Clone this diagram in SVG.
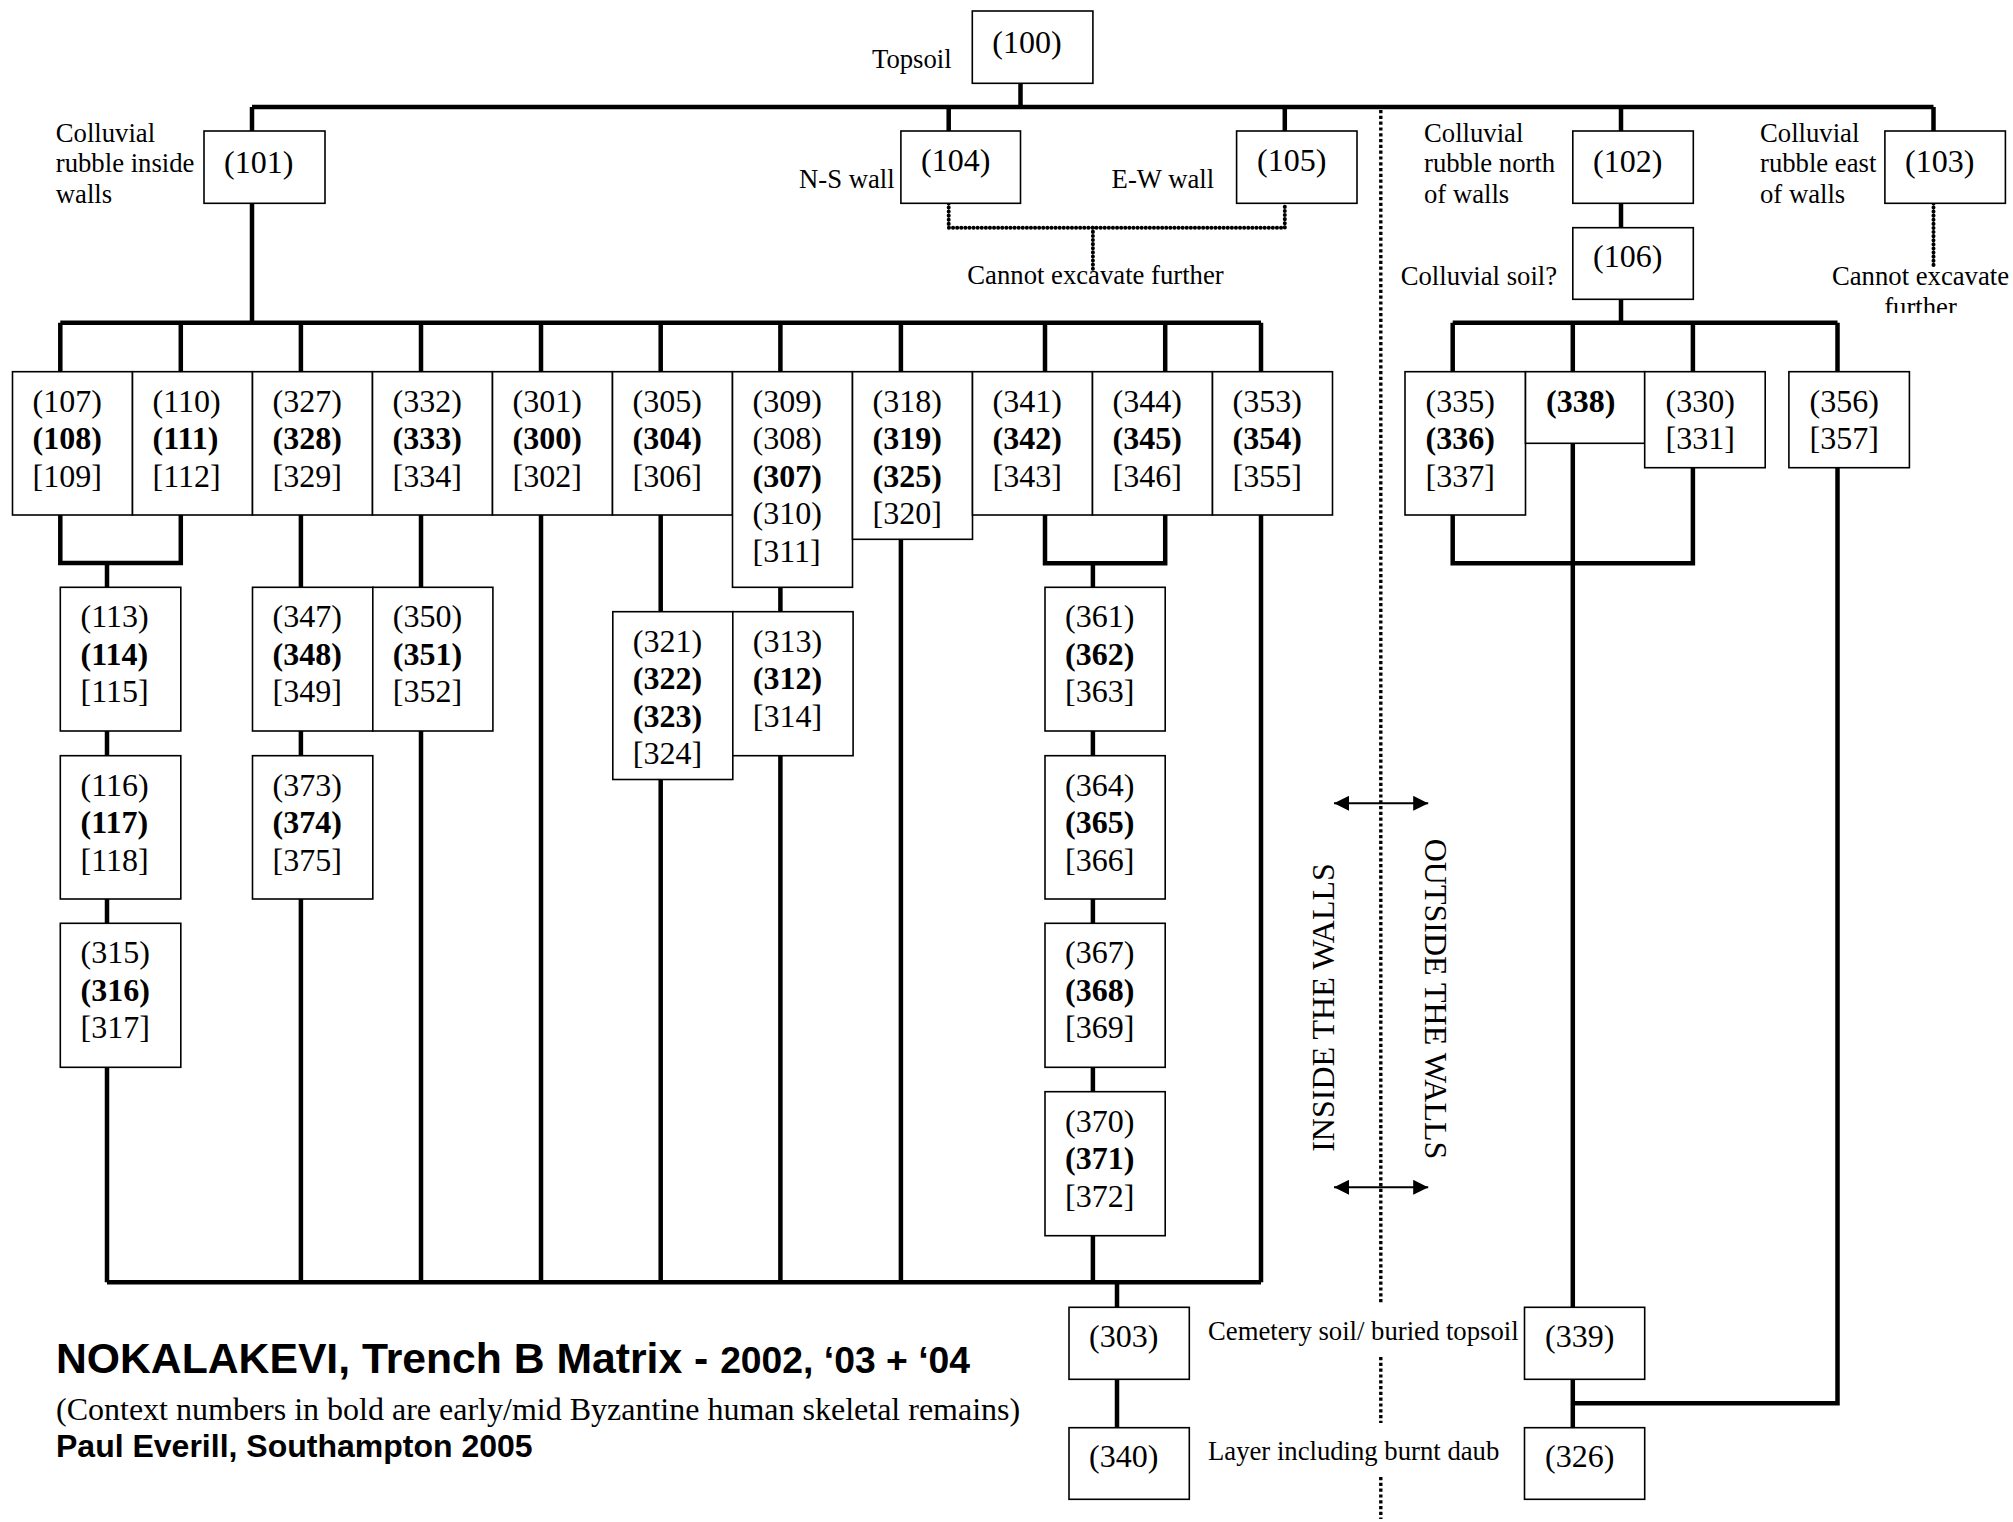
<svg xmlns="http://www.w3.org/2000/svg" width="2013" height="1522" viewBox="0 0 2013 1522">
<style>
.box{fill:#fff;stroke:#000;stroke-width:1.6}
.c{fill:none;stroke:#000;stroke-width:4.5;stroke-linejoin:miter}
.dt{fill:none;stroke:#000;stroke-width:4;stroke-dasharray:0.1 4;stroke-linecap:round}
.dv{fill:none;stroke:#000;stroke-width:3.4;stroke-dasharray:3.2 2.6}
.ar{fill:none;stroke:#000;stroke-width:2;marker-start:url(#ah);marker-end:url(#ah)}
.n{font-family:"Liberation Serif","Times New Roman",serif;font-size:32px;fill:#000}
.b{font-weight:bold}
.l{font-family:"Liberation Serif","Times New Roman",serif;font-size:26.7px;fill:#000}
.s{font-family:"Liberation Sans",Arial,sans-serif;font-weight:bold;fill:#000}
</style>
<defs>
<marker id="ah" viewBox="0 0 15 15" refX="15" refY="7.5" markerWidth="15" markerHeight="15" markerUnits="userSpaceOnUse" orient="auto-start-reverse"><path d="M0,0 L15,7.5 L0,15 z" fill="#000"/></marker>
<clipPath id="clipF"><rect x="1790" y="240" width="223" height="73"/></clipPath>
</defs>
<rect width="2013" height="1522" fill="#fff"/>
<g id="connectors">
<path class="c" d="M252,107 H1933.5 M1020.5,83.3 V107 M252,107 V131 M252,203.3 V322.7 M948.7,107 V131 M1284.8,107 V131 M1621,107 V131 M1621,203.3 V227.7 M1621,299.3 V322.7 M1933.5,107 V131"/>
<path class="c" d="M60.3,322.7 H1261 M60.3,322.7 V371.7 M180.8,322.7 V371.7 M300.9,322.7 V371.7 M421,322.7 V371.7 M541,322.7 V371.7 M660.7,322.7 V371.7 M780.4,322.7 V371.7 M900.9,322.7 V371.7 M1045,322.7 V371.7 M1165.2,322.7 V371.7 M1261,322.7 V371.7"/>
<path class="c" d="M60.3,515 V563 H180.8 V515 M107,563 V587.3 M107,731 V755.7 M107,899 V923.3 M107,1067.3 V1282.3"/>
<path class="c" d="M300.9,515 V587.3 M300.9,731 V755.7 M300.9,899 V1282.3 M421,515 V587.3 M421,731 V1282.3 M541,515 V1282.3 M660.7,515 V611.7 M660.7,779.5 V1282.3 M780.4,587.3 V611.7 M780.4,755.7 V1282.3 M900.9,539.3 V1282.3"/>
<path class="c" d="M1045,515 V563.3 H1165.2 V515 M1092.9,563.3 V587.3 M1092.9,731 V755.7 M1092.9,899 V923.3 M1092.9,1067.3 V1091.7 M1092.9,1235.7 V1282.3 M1261,515 V1282.3"/>
<path class="c" d="M107,1282.3 H1261 M1117,1282.3 V1307.3 M1117,1379.3 V1427.7"/>
<path class="c" d="M1452.7,322.7 H1837.5 M1452.7,322.7 V371.7 M1572.8,322.7 V371.7 M1692.9,322.7 V371.7 M1837.5,322.7 V371.7 M1452.7,515 V563.3 H1692.9 V467.7 M1572.8,443.3 V1307.3 M1572.8,1379.3 V1427.7 M1837.5,467.7 V1403.3 H1572.8"/>
<path class="dt" d="M948.7,203.3 V227.7 H1284.8 V203.3 M1092.9,227.7 V270 M1933.5,203.3 V268"/>
<path class="dv" d="M1380.8,110 V1303 M1380.8,1357 V1423 M1380.8,1477 V1519"/>
<path class="ar" d="M1334,803.3 H1428.2"/>
<path class="ar" d="M1334,1187.3 H1428.2"/>
</g>
<g id="n100"><rect class="box" x="972.3" y="11" width="120.6" height="72.3"/><text class="n" x="992.3" y="53.3">(100)</text></g>
<g id="n101"><rect class="box" x="204" y="131" width="121" height="72.3"/><text class="n" x="224" y="172.5">(101)</text></g>
<g id="n104"><rect class="box" x="900.9" y="131" width="119.6" height="72.3"/><text class="n" x="921" y="171">(104)</text></g>
<g id="n105"><rect class="box" x="1236.6" y="131" width="120.4" height="72.3"/><text class="n" x="1257" y="171">(105)</text></g>
<g id="n102"><rect class="box" x="1572.8" y="131" width="120.5" height="72.3"/><text class="n" x="1593" y="172">(102)</text></g>
<g id="n103"><rect class="box" x="1884.9" y="131" width="120.5" height="72.3"/><text class="n" x="1905" y="172">(103)</text></g>
<g id="n106"><rect class="box" x="1572.8" y="227.7" width="120.5" height="71.6"/><text class="n" x="1593" y="266.7">(106)</text></g>
<g id="n107"><rect class="box" x="12.5" y="371.7" width="120" height="143.3"/><text class="n" x="32.5" y="411.7">(107)<tspan class="b" x="32.5" dy="37.5">(108)</tspan><tspan x="32.5" dy="37.5">[109]</tspan></text></g>
<g id="n110"><rect class="box" x="132.5" y="371.7" width="120" height="143.3"/><text class="n" x="152.5" y="411.7">(110)<tspan class="b" x="152.5" dy="37.5">(111)</tspan><tspan x="152.5" dy="37.5">[112]</tspan></text></g>
<g id="n327"><rect class="box" x="252.5" y="371.7" width="120" height="143.3"/><text class="n" x="272.5" y="411.7">(327)<tspan class="b" x="272.5" dy="37.5">(328)</tspan><tspan x="272.5" dy="37.5">[329]</tspan></text></g>
<g id="n332"><rect class="box" x="372.5" y="371.7" width="120" height="143.3"/><text class="n" x="392.5" y="411.7">(332)<tspan class="b" x="392.5" dy="37.5">(333)</tspan><tspan x="392.5" dy="37.5">[334]</tspan></text></g>
<g id="n301"><rect class="box" x="492.5" y="371.7" width="120" height="143.3"/><text class="n" x="512.5" y="411.7">(301)<tspan class="b" x="512.5" dy="37.5">(300)</tspan><tspan x="512.5" dy="37.5">[302]</tspan></text></g>
<g id="n305"><rect class="box" x="612.5" y="371.7" width="120" height="143.3"/><text class="n" x="632.5" y="411.7">(305)<tspan class="b" x="632.5" dy="37.5">(304)</tspan><tspan x="632.5" dy="37.5">[306]</tspan></text></g>
<g id="n309"><rect class="box" x="732.5" y="371.7" width="120" height="215.6"/><text class="n" x="752.5" y="411.7">(309)<tspan x="752.5" dy="37.5">(308)</tspan><tspan class="b" x="752.5" dy="37.5">(307)</tspan><tspan x="752.5" dy="37.5">(310)</tspan><tspan x="752.5" dy="37.5">[311]</tspan></text></g>
<g id="n318"><rect class="box" x="852.5" y="371.7" width="120" height="167.6"/><text class="n" x="872.5" y="411.7">(318)<tspan class="b" x="872.5" dy="37.5">(319)</tspan><tspan class="b" x="872.5" dy="37.5">(325)</tspan><tspan x="872.5" dy="37.5">[320]</tspan></text></g>
<g id="n341"><rect class="box" x="972.5" y="371.7" width="120" height="143.3"/><text class="n" x="992.5" y="411.7">(341)<tspan class="b" x="992.5" dy="37.5">(342)</tspan><tspan x="992.5" dy="37.5">[343]</tspan></text></g>
<g id="n344"><rect class="box" x="1092.5" y="371.7" width="120" height="143.3"/><text class="n" x="1112.5" y="411.7">(344)<tspan class="b" x="1112.5" dy="37.5">(345)</tspan><tspan x="1112.5" dy="37.5">[346]</tspan></text></g>
<g id="n353"><rect class="box" x="1212.5" y="371.7" width="120" height="143.3"/><text class="n" x="1232.5" y="411.7">(353)<tspan class="b" x="1232.5" dy="37.5">(354)</tspan><tspan x="1232.5" dy="37.5">[355]</tspan></text></g>
<g id="n113"><rect class="box" x="60.3" y="587.3" width="120.5" height="143.7"/><text class="n" x="80.5" y="627.3">(113)<tspan class="b" x="80.5" dy="37.5">(114)</tspan><tspan x="80.5" dy="37.5">[115]</tspan></text></g>
<g id="n116"><rect class="box" x="60.3" y="755.7" width="120.5" height="143.3"/><text class="n" x="80.5" y="795.7">(116)<tspan class="b" x="80.5" dy="37.5">(117)</tspan><tspan x="80.5" dy="37.5">[118]</tspan></text></g>
<g id="n315"><rect class="box" x="60.3" y="923.3" width="120.5" height="144"/><text class="n" x="80.5" y="963.3">(315)<tspan class="b" x="80.5" dy="37.5">(316)</tspan><tspan x="80.5" dy="37.5">[317]</tspan></text></g>
<g id="n347"><rect class="box" x="252.5" y="587.3" width="120.3" height="143.7"/><text class="n" x="272.5" y="627.3">(347)<tspan class="b" x="272.5" dy="37.5">(348)</tspan><tspan x="272.5" dy="37.5">[349]</tspan></text></g>
<g id="n350"><rect class="box" x="372.8" y="587.3" width="120.1" height="143.7"/><text class="n" x="392.8" y="627.3">(350)<tspan class="b" x="392.8" dy="37.5">(351)</tspan><tspan x="392.8" dy="37.5">[352]</tspan></text></g>
<g id="n373"><rect class="box" x="252.5" y="755.7" width="120.3" height="143.3"/><text class="n" x="272.5" y="795.7">(373)<tspan class="b" x="272.5" dy="37.5">(374)</tspan><tspan x="272.5" dy="37.5">[375]</tspan></text></g>
<g id="n321"><rect class="box" x="612.8" y="611.7" width="120" height="167.8"/><text class="n" x="632.8" y="651.7">(321)<tspan class="b" x="632.8" dy="37.5">(322)</tspan><tspan class="b" x="632.8" dy="37.5">(323)</tspan><tspan x="632.8" dy="37.5">[324]</tspan></text></g>
<g id="n313"><rect class="box" x="732.8" y="611.7" width="120.3" height="144"/><text class="n" x="752.8" y="651.7">(313)<tspan class="b" x="752.8" dy="37.5">(312)</tspan><tspan x="752.8" dy="37.5">[314]</tspan></text></g>
<g id="n361"><rect class="box" x="1045" y="587.3" width="120.2" height="143.7"/><text class="n" x="1065" y="627.3">(361)<tspan class="b" x="1065" dy="37.5">(362)</tspan><tspan x="1065" dy="37.5">[363]</tspan></text></g>
<g id="n364"><rect class="box" x="1045" y="755.7" width="120.2" height="143.3"/><text class="n" x="1065" y="795.7">(364)<tspan class="b" x="1065" dy="37.5">(365)</tspan><tspan x="1065" dy="37.5">[366]</tspan></text></g>
<g id="n367"><rect class="box" x="1045" y="923.3" width="120.2" height="144"/><text class="n" x="1065" y="963.3">(367)<tspan class="b" x="1065" dy="37.5">(368)</tspan><tspan x="1065" dy="37.5">[369]</tspan></text></g>
<g id="n370"><rect class="box" x="1045" y="1091.7" width="120.2" height="144"/><text class="n" x="1065" y="1131.7">(370)<tspan class="b" x="1065" dy="37.5">(371)</tspan><tspan x="1065" dy="37.5">[372]</tspan></text></g>
<g id="n335"><rect class="box" x="1405" y="371.7" width="120.5" height="143.3"/><text class="n" x="1425.5" y="411.7">(335)<tspan class="b" x="1425.5" dy="37.5">(336)</tspan><tspan x="1425.5" dy="37.5">[337]</tspan></text></g>
<g id="n338"><rect class="box" x="1525.5" y="371.7" width="119.2" height="71.6"/><text class="n b" x="1546" y="411.7">(338)</text></g>
<g id="n330"><rect class="box" x="1644.7" y="371.7" width="120.5" height="96"/><text class="n" x="1665.5" y="411.7">(330)<tspan x="1665.5" dy="37.5">[331]</tspan></text></g>
<g id="n356"><rect class="box" x="1788.9" y="371.7" width="120.5" height="96"/><text class="n" x="1809.5" y="411.7">(356)<tspan x="1809.5" dy="37.5">[357]</tspan></text></g>
<g id="n303"><rect class="box" x="1069" y="1307.3" width="120.3" height="72"/><text class="n" x="1089" y="1347">(303)</text></g>
<g id="n340"><rect class="box" x="1069" y="1427.7" width="120.3" height="71.6"/><text class="n" x="1089" y="1467">(340)</text></g>
<g id="n339"><rect class="box" x="1524.5" y="1307.3" width="120.2" height="72"/><text class="n" x="1545" y="1347">(339)</text></g>
<g id="n326"><rect class="box" x="1524.5" y="1427.7" width="120.2" height="71.6"/><text class="n" x="1545" y="1467">(326)</text></g>
<g id="labels">
<text class="l" x="872" y="68.3">Topsoil</text>
<text class="l" x="799" y="188.3">N-S wall</text>
<text class="l" x="1111.6" y="188.3">E-W wall</text>
<text class="l" x="55.8" y="141.5">Colluvial<tspan x="55.8" dy="30.7">rubble inside</tspan><tspan x="55.8" dy="30.7">walls</tspan></text>
<text class="l" x="1424" y="141.5">Colluvial<tspan x="1424" dy="30.7">rubble north</tspan><tspan x="1424" dy="30.7">of walls</tspan></text>
<text class="l" x="1760" y="141.5">Colluvial<tspan x="1760" dy="30.7">rubble east</tspan><tspan x="1760" dy="30.7">of walls</tspan></text>
<text class="l" x="1095.5" y="284" text-anchor="middle">Cannot excavate further</text>
<text class="l" x="1400.7" y="285">Colluvial soil?</text>
<g clip-path="url(#clipF)"><text class="l" x="1920.5" y="285" text-anchor="middle">Cannot excavate<tspan x="1920.5" dy="31">further</tspan></text></g>
<text class="l" x="1208" y="1340">Cemetery soil/ buried topsoil</text>
<text class="l" x="1208" y="1460">Layer including burnt daub</text>
<text class="n" transform="translate(1334,1007.5) rotate(-90)" text-anchor="middle">INSIDE THE WALLS</text>
<text class="n" transform="translate(1425.3,999) rotate(90)" text-anchor="middle">OUTSIDE THE WALLS</text>
<text class="s" x="56" y="1373.3" font-size="42.7">NOKALAKEVI, Trench B Matrix - <tspan font-size="37.3">2002, ‘03 + ‘04</tspan></text>
<text class="n" x="56" y="1420">(Context numbers in bold are early/mid Byzantine human skeletal remains)</text>
<text class="s" x="56" y="1456.7" font-size="32">Paul Everill, Southampton 2005</text>
</g>
</svg>
